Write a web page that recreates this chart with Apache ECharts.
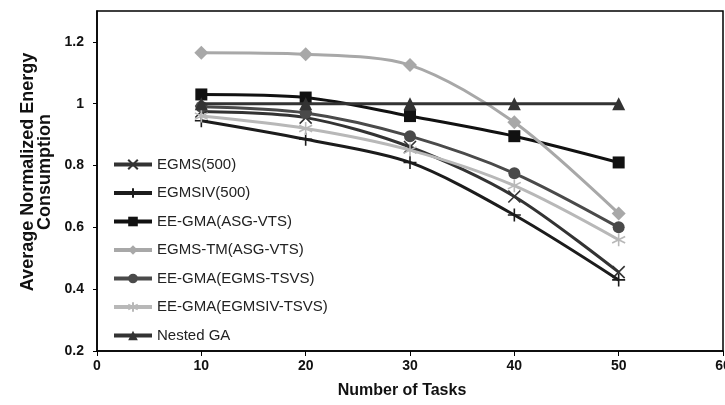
<!DOCTYPE html>
<html>
<head>
<meta charset="utf-8">
<script src="https://cdn.jsdelivr.net/npm/echarts@6/dist/echarts.min.js"></script>
<style>
  html, body { margin: 0; padding: 0; background: #fff; }
  #chart { width: 725px; height: 405px; }
</style>
</head>
<body>
<div id="chart"></div>
<script>
// Number of tasks on the x axis
const tasks = [10, 20, 30, 40, 50];

// Average normalized energy consumption per method
const egms500 = [0.975, 0.955, 0.86, 0.70, 0.455];
const egmsiv500 = [0.945, 0.885, 0.81, 0.64, 0.43];
const eeGmaAsgVts = [1.03, 1.02, 0.96, 0.895, 0.81];
const egmsTmAsgVts = [1.165, 1.16, 1.125, 0.94, 0.645];
const eeGmaEgmsTsvs = [0.99, 0.97, 0.895, 0.775, 0.60];
const eeGmaEgmsivTsvs = [0.96, 0.92, 0.85, 0.735, 0.56];
const nestedGa = [1.0, 1.0, 1.0, 1.0, 1.0];

const seriesNames = [
  'EGMS(500)', 'EGMSIV(500)', 'EE-GMA(ASG-VTS)', 'EGMS-TM(ASG-VTS)',
  'EE-GMA(EGMS-TSVS)', 'EE-GMA(EGMSIV-TSVS)', 'Nested GA'
];
const seriesValues = [egms500, egmsiv500, eeGmaAsgVts, egmsTmAsgVts, eeGmaEgmsTsvs, eeGmaEgmsivTsvs, nestedGa];

// Stroke-only marker shapes
const crossX = 'path://M0,0L10,10M10,0L0,10';
const plus = 'path://M5,0L5,10M0,5L10,5';
const asterisk = 'path://M5,0L5,10M0.7,2.5L9.3,7.5M0.7,7.5L9.3,2.5';

const styles = [
  { color: '#333333', symbol: crossX, size: 12, stroke: true },
  { color: '#1c1c1c', symbol: plus, size: 13, stroke: true },
  { color: '#111111', symbol: 'rect', size: 12, stroke: false },
  { color: '#a8a8a8', symbol: 'diamond', size: 14, stroke: false },
  { color: '#4a4a4a', symbol: 'circle', size: 12, stroke: false },
  { color: '#b8b8b8', symbol: asterisk, size: 13, stroke: true },
  { color: '#333333', symbol: 'triangle', size: 13, stroke: false }
];

const series = seriesNames.map((name, i) => {
  const s = styles[i];
  return {
    name: name,
    type: 'line',
    smooth: 0.3,
    data: tasks.map((t, j) => [t, seriesValues[i][j]]),
    symbol: s.symbol,
    symbolSize: s.size,
    showAllSymbol: true,
    lineStyle: { color: s.color, width: 3 },
    itemStyle: s.stroke
      ? { color: s.color, borderColor: s.color, borderWidth: 1.6 }
      : { color: s.color, borderWidth: 0 },
    emphasis: { disabled: true },
    z: 2 + i
  };
});

const chart = echarts.init(document.getElementById('chart'), null, { renderer: 'canvas' });
chart.setOption({
  animation: false,
  backgroundColor: '#ffffff',
  textStyle: { fontFamily: 'Liberation Sans, Arial, sans-serif' },
  grid: {
    left: 97, right: 2, top: 11, bottom: 54,
    outerBoundsMode: 'none', containLabel: false,
    show: true, borderColor: '#000', borderWidth: 1.5, backgroundColor: 'transparent'
  },
  legend: {
    orient: 'vertical',
    left: 112,
    top: 157,
    padding: 0,
    itemWidth: 38,
    itemHeight: 12,
    itemGap: 13.5,
    lineStyle: { width: 4 },
    textStyle: { fontSize: 15, color: '#222', fontFamily: 'Liberation Sans, Arial, sans-serif' },
    data: seriesNames
  },
  xAxis: {
    type: 'value',
    min: 0,
    max: 60,
    interval: 10,
    name: 'Number of Tasks',
    nameLocation: 'middle',
    nameGap: 32,
    nameTextStyle: { fontSize: 16, fontWeight: 'bold', color: '#111', padding: [0, 16, 0, 0] },
    axisLine: { lineStyle: { color: '#000', width: 1.5 } },
    axisTick: { show: true, length: 5, lineStyle: { color: '#000', width: 1 } },
    axisLabel: { fontSize: 14, fontWeight: 'bold', color: '#111', margin: 8 },
    splitLine: { show: false }
  },
  yAxis: {
    type: 'value',
    min: 0.2,
    max: 1.3,
    interval: 0.2,
    name: 'Average Normalized Energy\nConsumption',
    nameLocation: 'middle',
    nameRotate: 90,
    nameGap: 42,
    nameTextStyle: { fontSize: 18, fontWeight: 'bold', color: '#111', lineHeight: 17, padding: [0, 0, 0, 18] },
    axisLine: { lineStyle: { color: '#000', width: 1.5 } },
    axisTick: { show: true, length: 4, lineStyle: { color: '#000', width: 1 } },
    axisLabel: {
      fontSize: 14, fontWeight: 'bold', color: '#111', margin: 13,
      showMaxLabel: false,
      formatter: v => (Math.abs(v - 1) < 1e-9 ? '1' : v.toFixed(1))
    },
    splitLine: { show: false }
  },
  series: series
});
</script>
</body>
</html>
